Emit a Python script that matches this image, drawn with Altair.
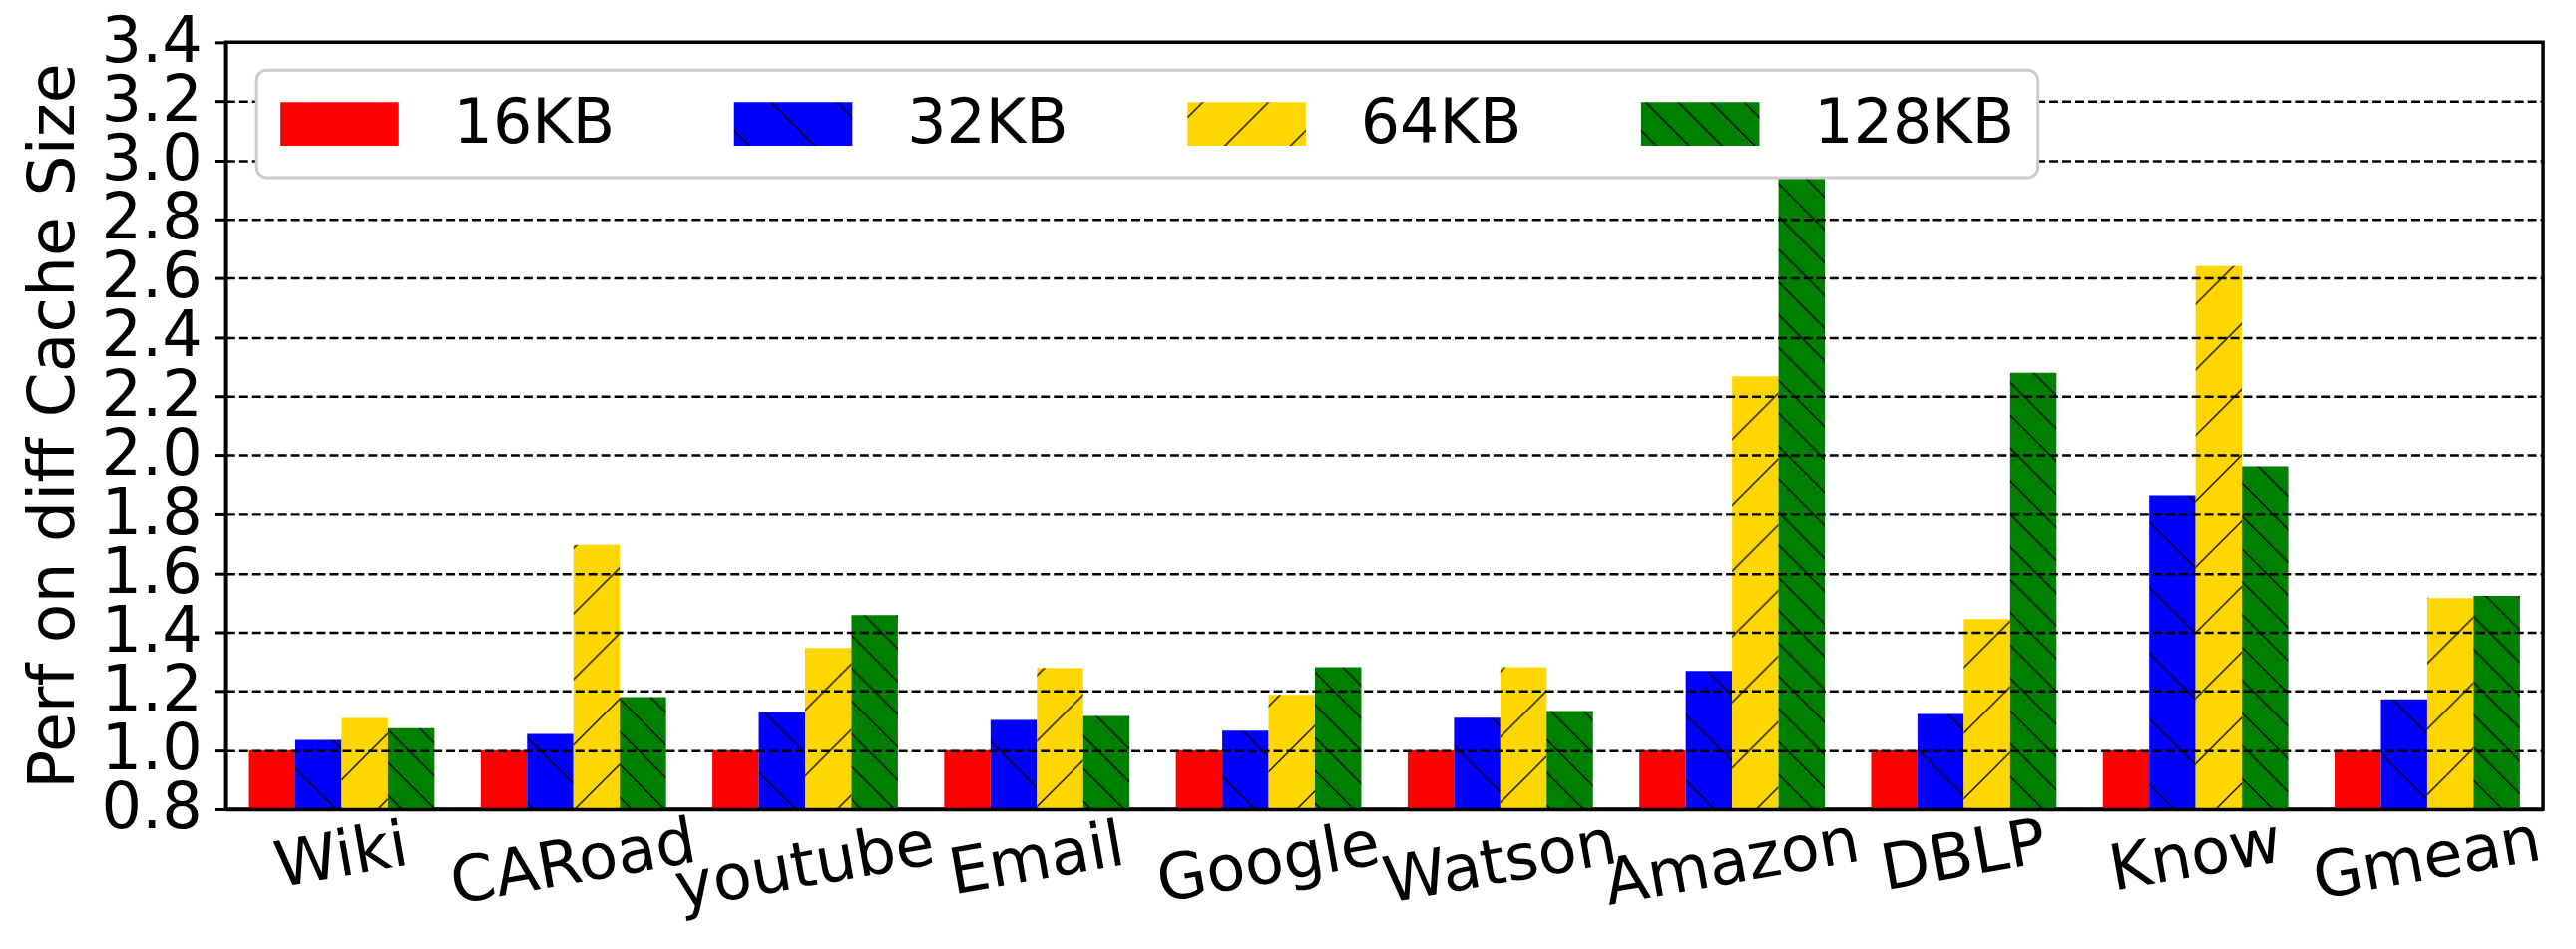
import altair as alt
import pandas as pd

# ---------------- data ----------------
categories = ["Wiki", "CARoad", "youtube", "Email", "Google",
              "Watson", "Amazon", "DBLP", "Know", "Gmean"]
series = ["16KB", "32KB", "64KB", "128KB"]
perf_16kb = [1.0, 1.0, 1.0, 1.0, 1.0, 1.0, 1.0, 1.0, 1.0, 1.0]
perf_32kb = [1.035, 1.055, 1.13, 1.103, 1.066, 1.11, 1.269, 1.123, 1.864, 1.173]
perf_64kb = [1.109, 1.697, 1.347, 1.279, 1.188, 1.282, 2.267, 1.445, 2.641, 1.516]
perf_128kb = [1.075, 1.18, 1.459, 1.116, 1.282, 1.133, 3.31, 2.279, 1.962, 1.524]
y_ticks = [0.8, 1.0, 1.2, 1.4, 1.6, 1.8, 2.0, 2.2, 2.4, 2.6, 2.8, 3.0, 3.2, 3.4]

rows = []
for s, vals in zip(series, [perf_16kb, perf_32kb, perf_64kb, perf_128kb]):
    for c, v in zip(categories, vals):
        rows.append({"bench": c, "size": s, "perf": v})
df = pd.DataFrame(rows)

# hatched fills (SVG patterns, defined in the page)
fills = ["#ff0000", "url(#hatch32)", "url(#hatch64)", "url(#hatch128)"]

PATTERNS = """
<svg width="0" height="0" style="position:absolute;left:0;top:0" aria-hidden="true">
 <defs>
  <pattern id="hatch32" patternUnits="userSpaceOnUse" width="66" height="66">
   <rect x="0" y="0" width="66" height="66" fill="#0000ff"/>
   <path d="M-10,-10 L76,76 M-43,23 L43,109 M23,-43 L109,43" stroke="#000" stroke-width="1.3" fill="none"/>
  </pattern>
  <pattern id="hatch64" patternUnits="userSpaceOnUse" width="66" height="66">
   <rect x="0" y="0" width="66" height="66" fill="#ffd700"/>
   <path d="M-10,76 L76,-10 M-43,43 L43,-43 M23,109 L109,23" stroke="#000" stroke-width="1.3" fill="none"/>
  </pattern>
  <pattern id="hatch128" patternUnits="userSpaceOnUse" width="33" height="33">
   <rect x="0" y="0" width="33" height="33" fill="#008000"/>
   <path d="M-6,-6 L39,39 M-22,11 L22,55 M11,-22 L55,22" stroke="#000" stroke-width="1.3" fill="none"/>
  </pattern>
 </defs>
</svg>
"""

try:
    import altair.utils.html as _ah

    class _PatternTemplate:
        def __init__(self, base):
            self.base = base

        def render(self, *args, **kwargs):
            html = self.base.render(*args, **kwargs)
            if "<body>" in html:
                return html.replace("<body>", "<body>" + PATTERNS, 1)
            return PATTERNS + html

    _ah.TEMPLATES["standard"] = _PatternTemplate(_ah.TEMPLATES["standard"])
except Exception:
    pass

FONT = "DejaVu Sans"


def build(x_label_padding):
    return alt.Chart(df).mark_bar(clip=True).encode(
        x=alt.X(
            "bench:N",
            sort=categories,
            scale=alt.Scale(paddingInner=0.2, paddingOuter=0.1),
            axis=alt.Axis(
                title=None,
                labelAngle=-10,
                labelAlign="center",
                labelBaseline="middle",
                labelFontSize=64,
                labelFont=FONT,
                labelColor="black",
                labelPadding=x_label_padding,
                labelLimit=0,
                labelOverlap=False,
                ticks=False,
                domainColor="black",
                domainWidth=3.5,
                grid=False,
                zindex=1,
            ),
        ),
        xOffset=alt.XOffset(
            "size:N", sort=series, scale=alt.Scale(paddingInner=0, paddingOuter=0)
        ),
        y=alt.Y(
            "perf:Q",
            scale=alt.Scale(domain=[0.8, 3.4], zero=False, nice=False),
            axis=alt.Axis(
                title="Perf on diff Cache Size",
                titleFontSize=65,
                titleFont=FONT,
                titleFontWeight="normal",
                titleColor="black",
                titlePadding=14,
                values=y_ticks,
                format=".1f",
                labelFontSize=64,
                labelFont=FONT,
                labelColor="black",
                labelPadding=13,
                labelOverlap=False,
                labelFlush=False,
                tickSize=11,
                tickWidth=3,
                tickColor="black",
                domainColor="black",
                domainWidth=3.5,
                grid=True,
                gridColor="black",
                gridDash=[9, 4],
                gridWidth=2.5,
                zindex=1,
            ),
        ),
        color=alt.Color(
            "size:N",
            sort=series,
            scale=alt.Scale(domain=series, range=fills),
            legend=alt.Legend(
                title=None,
                orient="none",
                legendX=31,
                legendY=28,
                direction="horizontal",
                columns=4,
                symbolType="M-1.919,-0.71H1.919V0.71H-1.919Z",
                symbolSize=3844,
                symbolOffset=29.5,
                symbolStrokeWidth=0,
                symbolOpacity=1,
                labelFontSize=62,
                labelFont=FONT,
                labelColor="black",
                labelLimit=0,
                labelOffset=83.5,
                columnPadding=118,
                padding=23,
                cornerRadius=10,
                fillColor="white",
                strokeColor="#cccccc",
                zindex=2,
            ),
        ),
    ).properties(
        width=2330,
        height=771,
        autosize=alt.AutoSizeParams(type="none"),
        padding={"left": 219, "top": 33, "right": 25, "bottom": 131},
    ).configure_view(
        stroke="black", strokeWidth=3.5
    ).configure_legend(
        strokeWidth=3
    )


try:
    chart = build({"condition": {"test": "datum.value == null", "value": 52},
                   "expr": "34 + 3.45 * length(datum.label)"})
    chart.to_dict()
except Exception:
    chart = build(54)

chart.save("out.html", embed_options={"renderer": "svg", "actions": False})
